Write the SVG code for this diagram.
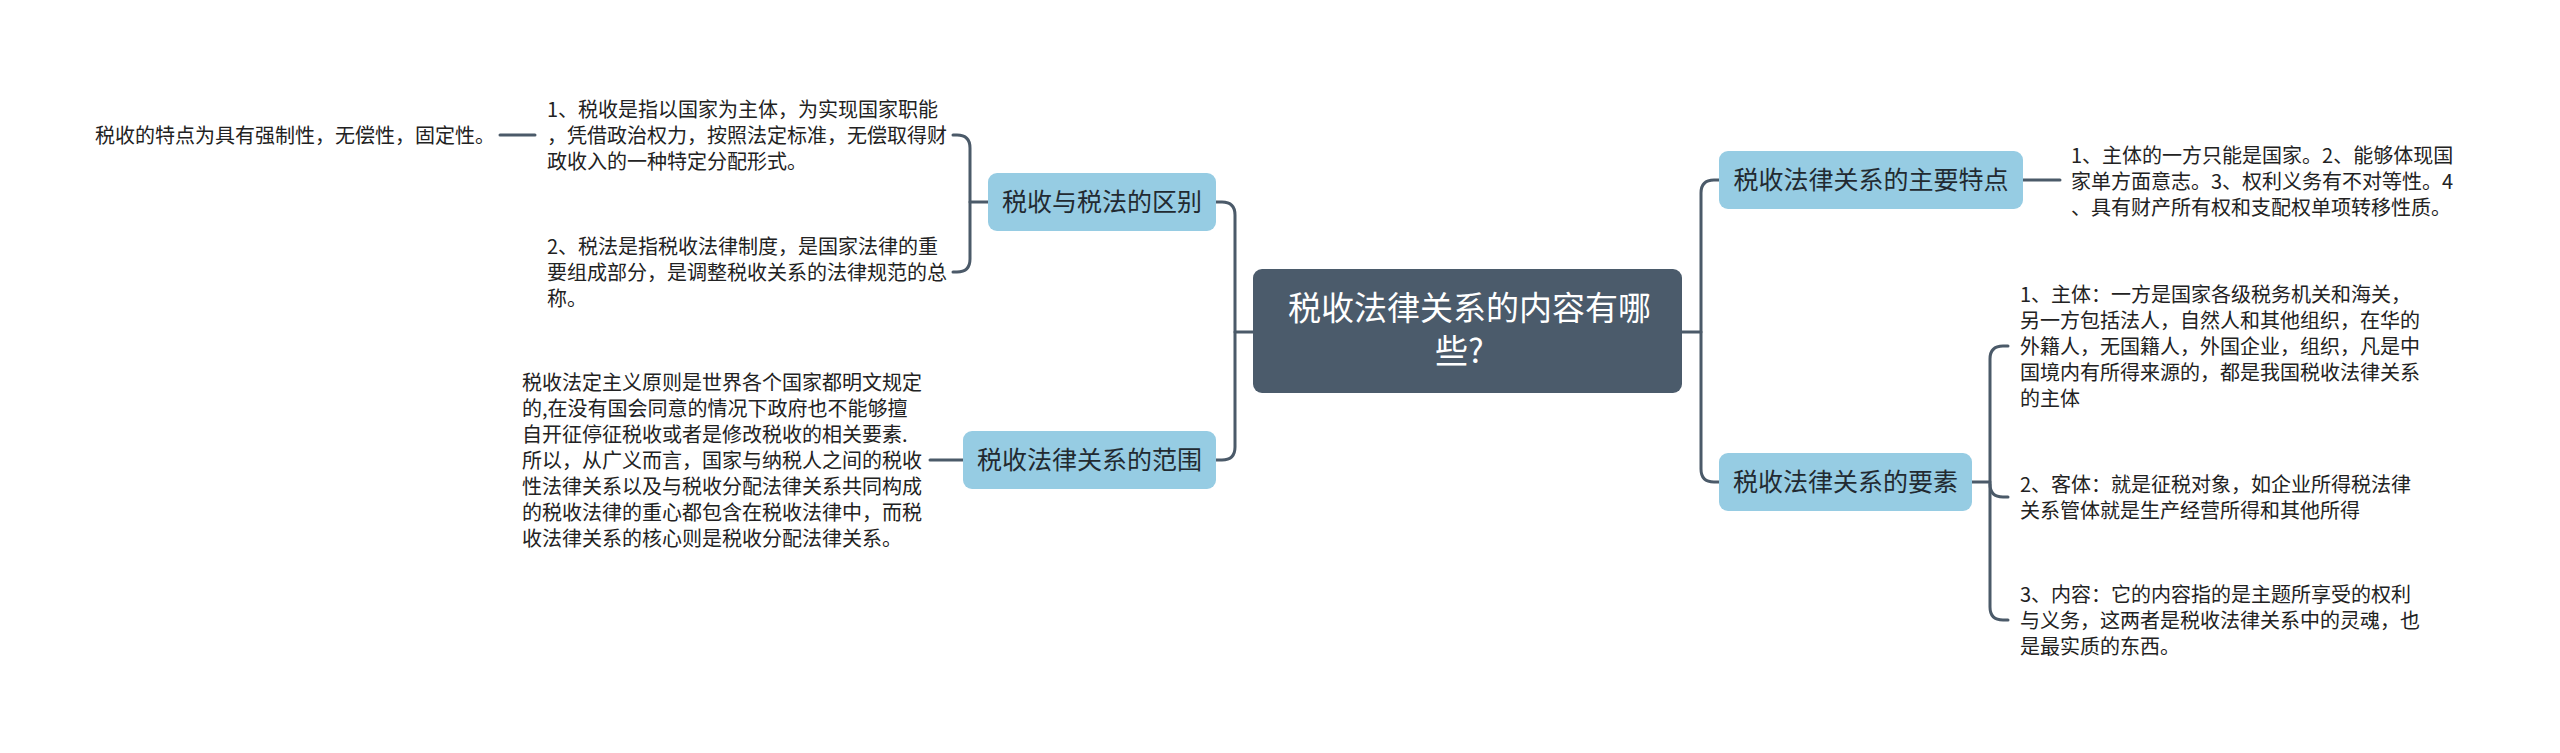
<svg xmlns="http://www.w3.org/2000/svg" width="2560" height="753" viewBox="0 0 2560 753">
<style>
.bg{fill:#ffffff}
.conn{fill:none;stroke:#4b5a69;stroke-width:3;stroke-linecap:round}
.root{fill:#4b5b6b}
.branch{fill:#96cce3}
.rt{font-family:"Noto Sans CJK SC","Noto Sans",sans-serif;font-size:33px;fill:#ffffff}
.bt{font-family:"Noto Sans CJK SC","Noto Sans",sans-serif;font-size:25px;fill:#222a31;text-anchor:middle}
.lt{font-family:"Noto Sans CJK SC","Noto Sans",sans-serif;font-size:20px;fill:#222222}
</style>
<rect class="bg" x="0" y="0" width="2560" height="753"/>
<g id="connectors">
<path class="conn" d="M1253 332 H1235"/>
<path class="conn" d="M1216 202 H1222 Q1235 202 1235 215 V447 Q1235 460 1222 460 H1216"/>
<path class="conn" d="M988 202 H970"/>
<path class="conn" d="M953 135 H957 Q970 135 970 148 V259 Q970 272 957 272 H953"/>
<path class="conn" d="M535 135 H500"/>
<path class="conn" d="M963 460 H930"/>
<path class="conn" d="M1682 332 H1701"/>
<path class="conn" d="M1719 180 H1714 Q1701 180 1701 193 V469 Q1701 482 1714 482 H1719"/>
<path class="conn" d="M2023 180 H2060"/>
<path class="conn" d="M1972 482 H1990"/>
<path class="conn" d="M2008 346 H2003 Q1990 346 1990 359 V607 Q1990 620 2003 620 H2008"/>
<path class="conn" d="M1990 484 Q1990 497 2003 497 H2008"/>
</g>
<g id="root">
<rect class="root" x="1253" y="269" width="429" height="124" rx="9"/>
<text class="rt" x="1288" y="320">税收法律关系的内容有哪</text>
<text class="rt" x="1435" y="363">些?</text>
</g>
<g id="n-qubie">
<rect class="branch" x="988" y="173" width="228" height="58" rx="9"/>
<text class="bt" x="1102" y="211">税收与税法的区别</text>
</g>
<g id="n-qubie-1">
<text class="lt" x="547" y="117">1、税收是指以国家为主体，为实现国家职能</text>
<text class="lt" x="547" y="143">，凭借政治权力，按照法定标准，无偿取得财</text>
<text class="lt" x="547" y="169">政收入的一种特定分配形式。</text>
</g>
<g id="n-tedian-leaf">
<text class="lt" x="95" y="143">税收的特点为具有强制性，无偿性，固定性。</text>
</g>
<g id="n-qubie-2">
<text class="lt" x="547" y="254">2、税法是指税收法律制度，是国家法律的重</text>
<text class="lt" x="547" y="280">要组成部分，是调整税收关系的法律规范的总</text>
<text class="lt" x="547" y="306">称。</text>
</g>
<g id="n-fanwei">
<rect class="branch" x="963" y="431" width="253" height="58" rx="9"/>
<text class="bt" x="1089.5" y="469">税收法律关系的范围</text>
</g>
<g id="n-fanwei-1">
<text class="lt" x="522" y="390">税收法定主义原则是世界各个国家都明文规定</text>
<text class="lt" x="522" y="416">的,在没有国会同意的情况下政府也不能够擅</text>
<text class="lt" x="522" y="442">自开征停征税收或者是修改税收的相关要素.</text>
<text class="lt" x="522" y="468">所以，从广义而言，国家与纳税人之间的税收</text>
<text class="lt" x="522" y="494">性法律关系以及与税收分配法律关系共同构成</text>
<text class="lt" x="522" y="520">的税收法律的重心都包含在税收法律中，而税</text>
<text class="lt" x="522" y="546">收法律关系的核心则是税收分配法律关系。</text>
</g>
<g id="n-tedian">
<rect class="branch" x="1719" y="151" width="304" height="58" rx="9"/>
<text class="bt" x="1871" y="189">税收法律关系的主要特点</text>
</g>
<g id="n-tedian-1">
<text class="lt" x="2071" y="163">1、主体的一方只能是国家。2、能够体现国</text>
<text class="lt" x="2071" y="189">家单方面意志。3、权利义务有不对等性。4</text>
<text class="lt" x="2071" y="215">、具有财产所有权和支配权单项转移性质。</text>
</g>
<g id="n-yaosu">
<rect class="branch" x="1719" y="453" width="253" height="58" rx="9"/>
<text class="bt" x="1845.5" y="491">税收法律关系的要素</text>
</g>
<g id="n-yaosu-1">
<text class="lt" x="2020" y="302">1、主体：一方是国家各级税务机关和海关，</text>
<text class="lt" x="2020" y="328">另一方包括法人，自然人和其他组织，在华的</text>
<text class="lt" x="2020" y="354">外籍人，无国籍人，外国企业，组织，凡是中</text>
<text class="lt" x="2020" y="380">国境内有所得来源的，都是我国税收法律关系</text>
<text class="lt" x="2020" y="406">的主体</text>
</g>
<g id="n-yaosu-2">
<text class="lt" x="2020" y="492">2、客体：就是征税对象，如企业所得税法律</text>
<text class="lt" x="2020" y="518">关系管体就是生产经营所得和其他所得</text>
</g>
<g id="n-yaosu-3">
<text class="lt" x="2020" y="602">3、内容：它的内容指的是主题所享受的权利</text>
<text class="lt" x="2020" y="628">与义务，这两者是税收法律关系中的灵魂，也</text>
<text class="lt" x="2020" y="654">是最实质的东西。</text>
</g>
</svg>
